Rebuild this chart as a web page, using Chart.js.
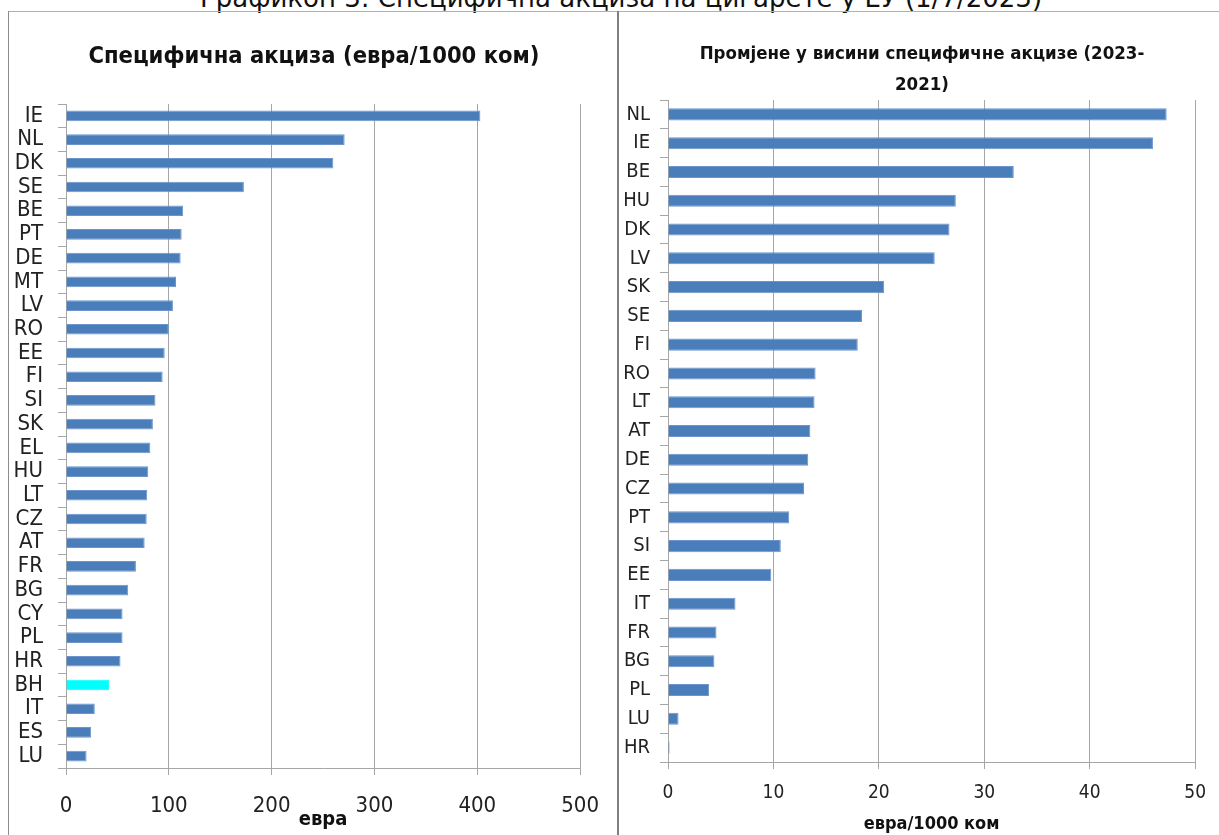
<!DOCTYPE html>
<html>
<head>
<meta charset="utf-8">
<script src="https://cdn.jsdelivr.net/npm/chart.js@4/dist/chart.umd.min.js"></script>
<style>
 body{margin:0;background:#fff;width:1219px;height:835px;overflow:hidden;position:relative;}
 #heading{position:absolute;left:0;width:1242px;top:-17px;line-height:30px;text-align:center;
   font-family:"DejaVu Sans",sans-serif;font-size:26px;color:#111;white-space:nowrap;}
 .ctitle{position:absolute;text-align:center;font-family:'Liberation Sans Narrow','DejaVu Sans Condensed',sans-serif;
   font-weight:bold;color:#111;white-space:nowrap;}
 #t1{left:14px;width:600px;top:41px;line-height:28px;font-size:23.5px;}
 #t2{left:622px;width:600px;top:36.5px;line-height:31px;font-size:18.5px;}
 #topline{position:absolute;left:8px;top:11px;width:1211px;height:1px;background:#b0b0b0;}
 #leftline{position:absolute;left:8px;top:11px;width:1px;height:824px;background:#8c8c8c;}
 #divider{position:absolute;left:617px;top:11px;width:2px;height:824px;background:#7f7f7f;}
 canvas{position:absolute;}
 #c1{left:9px;top:12px;}
 #c2{left:619px;top:12px;}
</style>
</head>
<body>
<div id="heading">Графикон 3: Специфична акциза на цигарете у ЕУ (1/7/2023)</div>
<div id="topline"></div>
<div id="leftline"></div>
<div id="divider"></div>
<canvas id="c1" width="608" height="823"></canvas>
<canvas id="c2" width="600" height="823"></canvas>
<div class="ctitle" id="t1">Специфична акциза (евра/1000 ком)</div>
<div class="ctitle" id="t2">Промјене у висини специфичне акцизе (2023-<br>2021)</div>
<script>
console.log("charts loading");

// left chart: specific excise, euro per 1000 pieces
const leftLabels = ["IE","NL","DK","SE","BE","PT","DE","MT","LV","RO","EE","FI","SI","SK","EL","HU","LT","CZ","AT","FR","BG","CY","PL","HR","BH","IT","ES","LU"];
const leftValues = [403,271,260,173,114,112.5,111.5,107,104,100,96,94,87,84.5,82,80,79,78.5,76.5,68,60.5,55,55,53,42,28,24.5,20];
const leftTicks = [0,100,200,300,400,500];

// right chart: change 2021 -> 2023
const rightLabels = ["NL","IE","BE","HU","DK","LV","SK","SE","FI","RO","LT","AT","DE","CZ","PT","SI","EE","IT","FR","BG","PL","LU","HR"];
const rightValues = [47.3,46.0,32.8,27.3,26.7,25.3,20.5,18.4,18.0,14.0,13.9,13.5,13.3,12.9,11.5,10.7,9.8,6.4,4.6,4.4,3.9,1.0,0.15];
const rightTicks = [0,10,20,30,40,50];

const narrow = "'Liberation Sans Narrow','DejaVu Sans Condensed',sans-serif";
const blue = "#4a7ebb";
const blueEdge = "#6b95cc";
const grid = "#a6a6a6";

function barChart(id, labels, values, colors, edges, cfg){
 return new Chart(document.getElementById(id),{
  type:"bar",
  data:{
   labels:labels,
   datasets:[{
    data:values,
    backgroundColor:colors,
    borderColor:edges,
    borderWidth:1,
    barPercentage:cfg.barPct,
    categoryPercentage:1
   }]
  },
  options:{
   indexAxis:"y",
   responsive:false,
   animation:false,
   // titles sit in html above the canvas, top padding leaves room for them
   layout:{padding:{left:0,right:cfg.padRight,top:cfg.padTop,bottom:0}},
   plugins:{
    legend:{display:false},
    tooltip:{enabled:false},
    title:{display:false}
   },
   scales:{
    x:{
     min:0,
     max:cfg.ticks[cfg.ticks.length-1],
     afterBuildTicks:(s)=>{ s.ticks = cfg.ticks.map(v=>({value:v})); },
     grid:{color:grid,tickLength:7,drawTicks:true},
     border:{color:grid},
     ticks:{color:"#222",font:{family:narrow,size:cfg.tickSize},padding:cfg.tickPad,maxRotation:0},
     title:{display:true,text:cfg.axisTitle,color:"#111",
       font:{family:narrow,size:cfg.axisTitleSize,weight:"bold"},padding:{top:0,bottom:cfg.axisTitlePad}},
     afterFit:(s)=>{ s.height = cfg.xHeight; }
    },
    y:{
     grid:{display:true,drawOnChartArea:false,offset:true,tickLength:8,color:grid},
     border:{color:grid},
     ticks:{autoSkip:false,color:"#222",font:{family:narrow,size:cfg.labelSize},padding:cfg.labelPad},
     afterFit:(s)=>{ s.width = cfg.yWidth; }
    }
   }
  }
 });
}

const leftColors = leftLabels.map(l=> l==="BH" ? "#00ffff" : blue);
const leftEdges = leftLabels.map(l=> l==="BH" ? "#00ffff" : blueEdge);

barChart("c1", leftLabels, leftValues, leftColors, leftEdges, {
 padTop:92,
 ticks:leftTicks, tickSize:22, tickPad:18,
 axisTitle:"евра", axisTitleSize:20, axisTitlePad:3,
 xHeight:67, yWidth:57, labelSize:22, labelPad:15, padRight:31, barPct:0.45
});

barChart("c2", rightLabels, rightValues, blue, blueEdge, {
 padTop:88,
 ticks:rightTicks, tickSize:19, tickPad:13,
 axisTitle:"евра/1000 ком", axisTitleSize:18, axisTitlePad:0,
 xHeight:73, yWidth:49, labelSize:20, labelPad:10, padRight:17, barPct:0.42
});
</script>
</body>
</html>
